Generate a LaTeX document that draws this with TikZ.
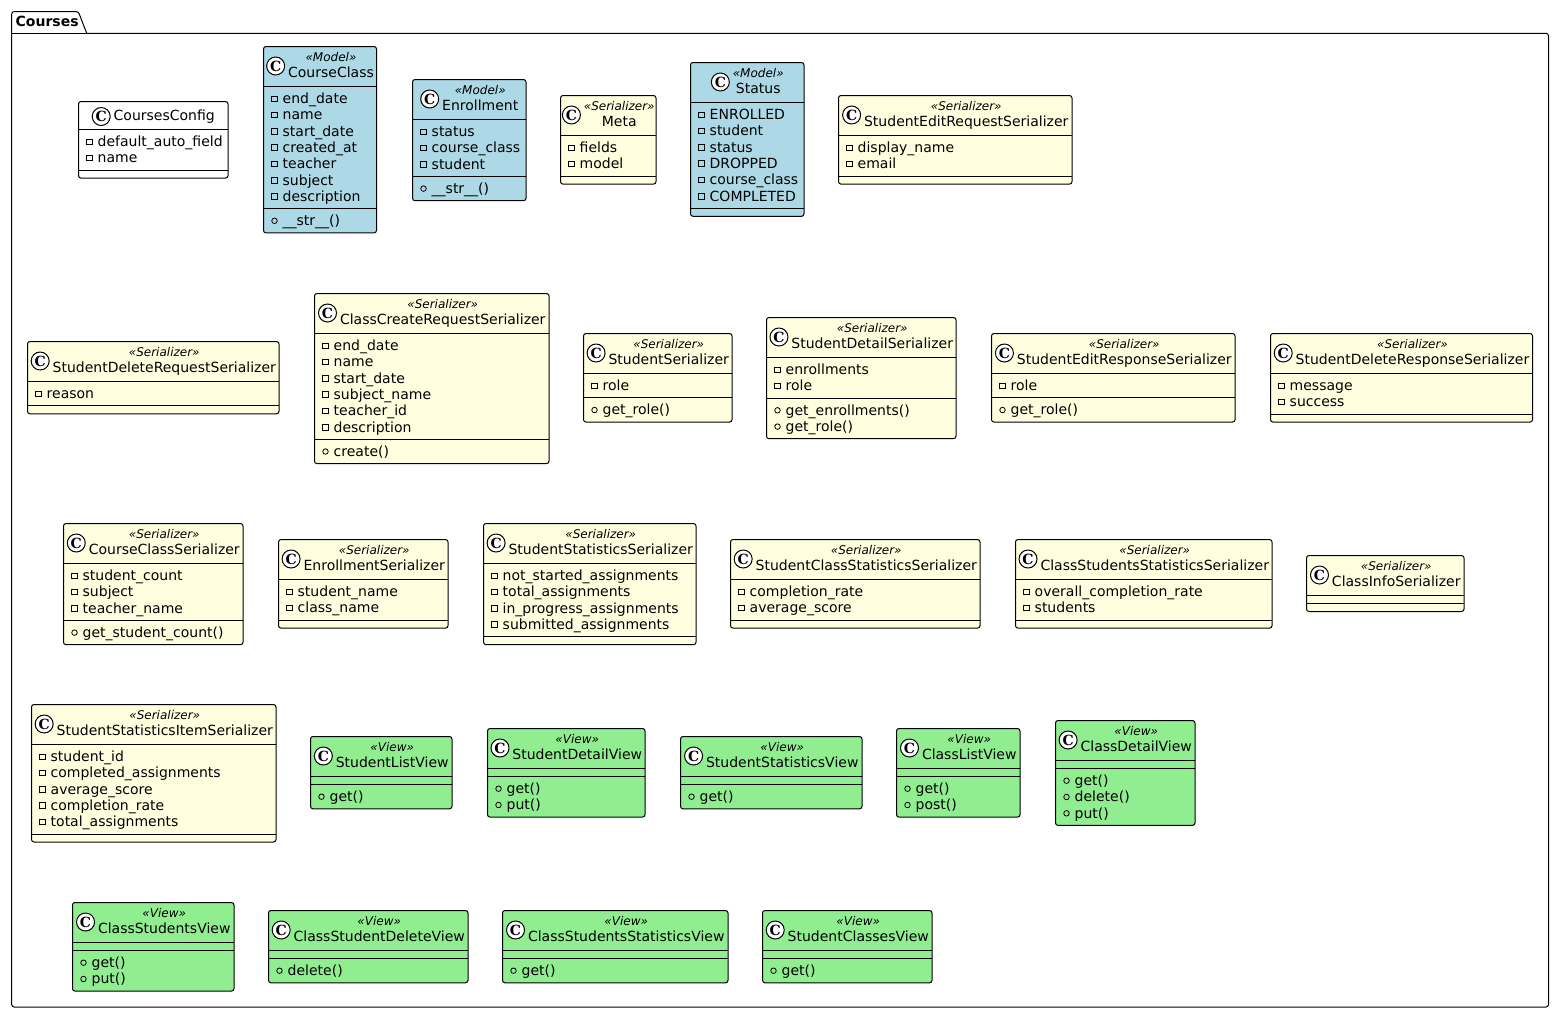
\documentclass[tikz,border=0pt]{standalone}
\usepackage{fontspec}
\setmainfont{DejaVu Sans}
\newfontfamily\spotfont{DejaVu Serif}
\definecolor{modelblue}{HTML}{ADD8E6}
\definecolor{seryellow}{HTML}{FFFFE0}
\definecolor{viewgreen}{HTML}{90EE90}
\tikzset{
umlbox/.style={draw,rounded corners=2.5pt,line width=1pt,inner sep=0pt,outer sep=0pt,anchor=north west},
umlline/.style={line width=1pt},
spotc/.style={draw,circle,fill=white,line width=1pt,minimum size=18pt,inner sep=0pt,font=\spotfont\bfseries\fontsize{14}{14}\selectfont},
titletxt/.style={anchor=base,inner sep=0pt,font=\fontsize{14}{16}\selectfont},
stereotxt/.style={anchor=base,inner sep=0pt,font=\itshape\fontsize{12}{14}\selectfont},
rowtxt/.style={anchor=base west,inner sep=0pt,font=\fontsize{14}{16}\selectfont},
privicon/.style={draw,rectangle,line width=.8pt,minimum size=5.5pt,inner sep=0pt},
pubicon/.style={draw,circle,line width=.8pt,minimum size=5.5pt,inner sep=0pt}
}
\newsavebox\titlebox
\newsavebox\stereobox
\newcommand{\countrows}[1]{%
\xdef\nrows{0}%
\if\relax\detokenize{#1}\relax\else
\foreach \rowtext [count=\rowno] in {#1}{\xdef\nrows{\rowno}}%
\fi}
% rows of one compartment: prefix, icon style, left, top, list
\newcommand{\umlrows}[5]{%
\if\relax\detokenize{#5}\relax\else
\foreach \rowtext [count=\rowno] in {#5}{
\pgfmathsetmacro\rowtop{#4+4+(\rowno-1)*16.3}
\node[#2] (#1-icon\rowno) at (#3+11,\rowtop+8.2) {};
\node[rowtxt] (#1-\rowno) at (#3+19,\rowtop+13) {\rowtext};
}%
\fi}
% x, y, width, colour, stereotype, title, fields, methods
\newcommand{\umlclass}[8]{%
\countrows{#7}\let\nfields\nrows
\countrows{#8}\let\nmethods\nrows
\if\relax\detokenize{#5}\relax
\def\headh{28}\def\spoty{15}\def\titley{18.5}
\setbox\stereobox\hbox{}
\else
\def\headh{40}\def\spoty{19.5}\def\titley{31}
\setbox\stereobox\hbox{\pgfinterruptpicture\itshape\fontsize{12}{14}\selectfont «#5»\endpgfinterruptpicture}
\fi
\setbox\titlebox\hbox{\pgfinterruptpicture\fontsize{14}{16}\selectfont #6\endpgfinterruptpicture}
\pgfmathsetmacro\blockw{max(\wd\titlebox,\wd\stereobox)}
\pgfmathsetmacro\blockx{#1+(#3-\blockw-28)/2}
\pgfmathsetmacro\fieldsy{#2+\headh}
\pgfmathsetmacro\methodsy{\fieldsy+8+\nfields*16.3}
\pgfmathsetmacro\boxh{\methodsy-#2+8+\nmethods*16.3}
\node[umlbox,fill=#4,minimum width=#3pt,minimum height=\boxh pt] (#6) at (#1,#2) {};
\draw[umlline] (#1,\fieldsy) -- (#1+#3,\fieldsy);
\draw[umlline] (#1,\methodsy) -- (#1+#3,\methodsy);
\node[spotc] (#6-spot) at (\blockx+12.5,#2+\spoty) {C};
\node[titletxt] (#6-title) at (\blockx+25+\blockw/2,#2+\titley) {#6};
\if\relax\detokenize{#5}\relax\else
\node[stereotxt] (#6-stereo) at (\blockx+25+\blockw/2,#2+15) {«#5»};
\fi
\umlrows{#6-f}{privicon}{#1}{\fieldsy}{#7}
\umlrows{#6-m}{pubicon}{#1}{\methodsy}{#8}
}
\begin{document}
\begin{tikzpicture}[x=1pt,y=-1pt]
\useasboundingbox (0,0) rectangle (1554,1013);
% package
\draw[umlline,rounded corners=2.5pt] (86.7,33.3) -- (1548.5,33.3) -- (1548.5,1007) -- (11.7,1007) -- (11.7,33.3);
\draw[umlline,rounded corners=2.5pt] (11.7,33.3) -- (11.7,11.5) -- (78.3,11.5) -- (86.7,33.3);
\draw[umlline] (11.7,33.3) -- (86.7,33.3);
\node[anchor=base west,inner sep=0pt,font=\bfseries\fontsize{14}{16}\selectfont] (courses) at (15.5,26.3) {Courses};
% first row
\umlclass{78.5}{101.5}{149.5}{white}{}{CoursesConfig}{default\_auto\_field,name}{}
\umlclass{263.5}{46.5}{113}{modelblue}{Model}{CourseClass}{end\_date,name,start\_date,created\_at,teacher,subject,description}{\_\_str\_\_()}
\umlclass{412.5}{79.5}{113.5}{modelblue}{Model}{Enrollment}{status,course\_class,student}{\_\_str\_\_()}
\umlclass{560.5}{95.5}{95.5}{seryellow}{Serializer}{Meta}{fields,model}{}
\umlclass{690.5}{62.5}{113.5}{modelblue}{Model}{Status}{ENROLLED,student,status,DROPPED,course\_class,COMPLETED}{}
\umlclass{838.5}{95.5}{233.5}{seryellow}{Serializer}{StudentEditRequestSerializer}{display\_name,email}{}
% second row
\umlclass{27.5}{341.5}{251.5}{seryellow}{Serializer}{StudentDeleteRequestSerializer}{reason}{}
\umlclass{314.5}{293.5}{234.5}{seryellow}{Serializer}{ClassCreateRequestSerializer}{end\_date,name,start\_date,subject\_name,teacher\_id,description}{create()}
\umlclass{583.5}{333.5}{148.5}{seryellow}{Serializer}{StudentSerializer}{role}{get\_role()}
\umlclass{766.5}{317.5}{189.5}{seryellow}{Serializer}{StudentDetailSerializer}{enrollments,role}{get\_enrollments(),get\_role()}
\umlclass{991.5}{333.5}{243.5}{seryellow}{Serializer}{StudentEditResponseSerializer}{role}{get\_role()}
\umlclass{1270.5}{333.5}{262}{seryellow}{Serializer}{StudentDeleteResponseSerializer}{message,success}{}
% third row
\umlclass{63.5}{523.5}{179.5}{seryellow}{Serializer}{CourseClassSerializer}{student\_count,subject,teacher\_name}{get\_student\_count()}
\umlclass{278.5}{539.5}{169.5}{seryellow}{Serializer}{EnrollmentSerializer}{student\_name,class\_name}{}
\umlclass{483.5}{523.5}{212.5}{seryellow}{Serializer}{StudentStatisticsSerializer}{not\_started\_assignments,total\_assignments,in\_progress\_assignments,submitted\_assignments}{}
\umlclass{730.5}{539.5}{249.5}{seryellow}{Serializer}{StudentClassStatisticsSerializer}{completion\_rate,average\_score}{}
\umlclass{1015.5}{539.5}{256.5}{seryellow}{Serializer}{ClassStudentsStatisticsSerializer}{overall\_completion\_rate,students}{}
\umlclass{1306.5}{555.5}{157.5}{seryellow}{Serializer}{ClassInfoSerializer}{}{}
% fourth row
\umlclass{31.5}{704.5}{244.5}{seryellow}{Serializer}{StudentStatisticsItemSerializer}{student\_id,completed\_assignments,average\_score,completion\_rate,total\_assignments}{}
\umlclass{310.5}{736.5}{141.5}{viewgreen}{View}{StudentListView}{}{get()}
\umlclass{487.5}{728.5}{157.5}{viewgreen}{View}{StudentDetailView}{}{get(),put()}
\umlclass{680.5}{736.5}{181.5}{viewgreen}{View}{StudentStatisticsView}{}{get()}
\umlclass{896.5}{728.5}{123.5}{viewgreen}{View}{ClassListView}{}{get(),post()}
\umlclass{1055.5}{720.5}{139.5}{viewgreen}{View}{ClassDetailView}{}{get(),delete(),put()}
% last row
\umlclass{72.5}{902.5}{161.5}{viewgreen}{View}{ClassStudentsView}{}{get(),put()}
\umlclass{268.5}{910.5}{199.5}{viewgreen}{View}{ClassStudentDeleteView}{}{delete()}
\umlclass{502.5}{910.5}{225.5}{viewgreen}{View}{ClassStudentsStatisticsView}{}{get()}
\umlclass{762.5}{910.5}{169.5}{viewgreen}{View}{StudentClassesView}{}{get()}
\end{tikzpicture}
\end{document}
